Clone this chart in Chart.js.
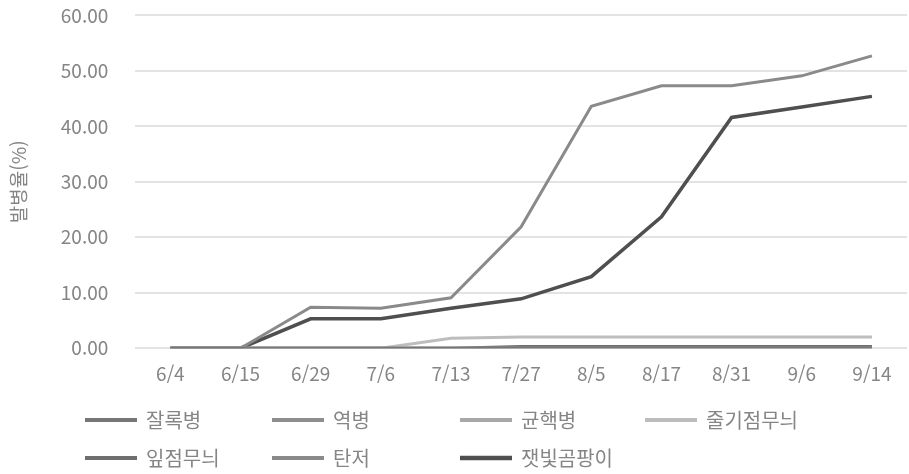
<!DOCTYPE html>
<html lang="ko">
<head>
<meta charset="utf-8">
<title>발병율</title>
<script src="https://cdn.jsdelivr.net/npm/chart.js@4.4.1/dist/chart.umd.min.js"></script>
<style>
  html, body { margin: 0; padding: 0; background: #fff; }
  #wrap { position: relative; width: 909px; height: 474px; overflow: hidden; }
  #diseaseChart { position: absolute; left: 0; top: -23px; }
</style>
</head>
<body>
<div id="wrap"><canvas id="diseaseChart" width="909" height="497"></canvas></div>
<script>
// survey dates
const dates = ["6/4", "6/15", "6/29", "7/6", "7/13", "7/27", "8/5", "8/17", "8/31", "9/6", "9/14"];

// incidence (%) per disease
const damping = [0, 0, 0, 0, 0, 0, 0, 0, 0, 0, 0];           // 잘록병
const blight = [0, 0, 0, 0, 0, 0, 0, 0, 0, 0, 0];            // 역병
const sclerotinia = [0, 0, 0, 0, 0, 0, 0, 0, 0, 0, 0];       // 균핵병
const stemSpot = [0, 0, 0, 0, 1.8, 2.0, 2.0, 2.0, 2.0, 2.0, 2.0]; // 줄기점무늬
const leafSpot = [0, 0, 0, 0, 0, 0.3, 0.3, 0.3, 0.3, 0.3, 0.3];   // 잎점무늬
const anthracnose = [0, 0, 7.4, 7.2, 9.1, 21.9, 43.6, 47.3, 47.3, 49.1, 52.7]; // 탄저
const grayMold = [0, 0, 5.3, 5.3, 7.2, 8.9, 12.9, 23.7, 41.6, 43.5, 45.4];     // 잿빛곰팡이

const yTicks = [0, 10, 20, 30, 40, 50, 60];

const FONT = "'Noto Sans CJK KR', 'Noto Sans', sans-serif";
const TEXT = "#858585";

function series(label, data, color, width) {
  return {
    label,
    data,
    borderColor: color,
    backgroundColor: color,
    borderWidth: width,
    pointRadius: 0,
    tension: 0,
    fill: false,
  };
}

// legend laid out in a fixed 4-column grid under the plot
// (canvas is shifted up 23px inside the wrapper, rows are in canvas coords)
const gridLegend = {
  id: "gridLegend",
  afterDraw(chart) {
    const ctx = chart.ctx;
    const colX = [85, 272, 460, 645];
    const rowY = [443, 481];
    ctx.save();
    ctx.font = "20px " + FONT;
    ctx.textBaseline = "middle";
    chart.data.datasets.forEach((ds, i) => {
      const x = colX[i % 4];
      const y = rowY[Math.floor(i / 4)];
      ctx.strokeStyle = ds.borderColor;
      ctx.lineWidth = ds.borderWidth + 1;
      ctx.beginPath();
      ctx.moveTo(x, y);
      ctx.lineTo(x + 52, y);
      ctx.stroke();
      ctx.fillStyle = TEXT;
      ctx.fillText(ds.label, x + 61, y);
    });
    ctx.restore();
  },
};

const ctx = document.getElementById("diseaseChart").getContext("2d");
new Chart(ctx, {
  type: "line",
  data: {
    labels: dates,
    datasets: [
      series("잘록병", damping, "#767676", 3),
      series("역병", blight, "#8e8e8e", 3),
      series("균핵병", sclerotinia, "#a8a8a8", 3),
      series("줄기점무늬", stemSpot, "#bdbdbd", 3),
      series("잎점무늬", leafSpot, "#6e6e6e", 3),
      series("탄저", anthracnose, "#8a8a8a", 3),
      series("잿빛곰팡이", grayMold, "#4f4f4f", 3.5),
    ],
  },
  options: {
    responsive: false,
    animation: false,
    layout: { padding: { top: 0, right: 2, bottom: 75, left: 7 } },
    plugins: {
      legend: { display: false },
      tooltip: { enabled: false },
    },
    scales: {
      x: {
        offset: true,
        grid: { display: false, drawTicks: false },
        border: { display: false },
        ticks: {
          color: TEXT,
          font: { family: FONT, size: 19 },
          padding: 14,
          maxRotation: 0,
          autoSkip: false,
        },
      },
      y: {
        min: 0,
        max: 60,
        afterBuildTicks(axis) {
          axis.ticks = yTicks.map((v) => ({ value: v }));
        },
        grid: { color: "#e3e3e3", lineWidth: 2, drawTicks: false },
        border: { display: false },
        ticks: {
          color: TEXT,
          font: { family: FONT, size: 19 },
          padding: 27,
          callback: (v) => Number(v).toFixed(2),
        },
        title: {
          display: true,
          text: "발병율(%)",
          color: TEXT,
          font: { family: FONT, size: 19 },
          padding: { top: 0, bottom: 4 },
        },
      },
    },
  },
  plugins: [gridLegend],
});
</script>
</body>
</html>
